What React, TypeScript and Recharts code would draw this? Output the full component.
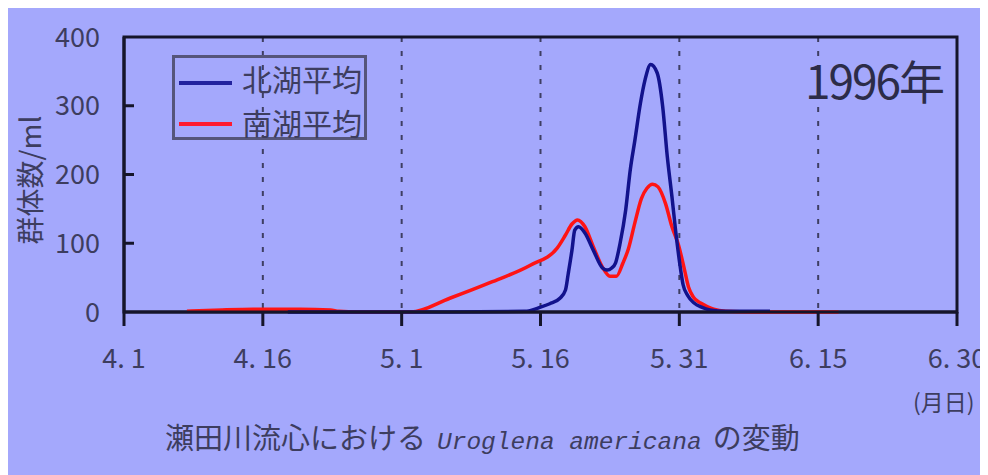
import { LineChart, Line, XAxis, YAxis, CartesianGrid, ReferenceArea } from 'recharts';

// days counted from 4.1 (day 0) to 6.30 (day 90)
const TICK_DAYS = [0, 15, 30, 45, 60, 75, 90];
const TICK_LABELS = ['4. 1', '4. 16', '5. 1', '5. 16', '5. 31', '6. 15', '6. 30'];
const Y_TICKS = [0, 100, 200, 300, 400];

// 北湖平均
const NORTH_DAYS = [17.7, 25, 35, 43.3, 45.0, 46.0, 47.1, 47.7, 48.0, 48.4, 48.7, 49.1, 49.8, 50.7, 51.7, 52.2, 52.7, 53.1, 53.6, 54.2, 54.7, 55.2, 55.8, 56.3, 56.9, 57.6, 58.2, 58.7, 59.2, 59.6, 60.0, 60.4, 60.9, 61.6, 62.4, 63.3, 65, 69.8];
const NORTH_VALUES = [0, 0, 0, 1, 7, 12, 20, 32, 56, 90, 119, 124, 115, 90, 64, 61, 64, 71, 100, 148, 207, 250, 304, 338, 360, 348, 299, 226, 168, 118, 75, 40, 24, 13, 7, 3, 1, 1];

// 南湖平均
const SOUTH_DAYS = [6.8, 10.6, 14, 19, 22.3, 23.2, 25.3, 31, 35.2, 39.6, 43.9, 46.8, 47.7, 48.4, 49.0, 49.8, 50.7, 51.7, 52.5, 53.2, 53.9, 54.5, 55.2, 55.9, 56.5, 57.1, 57.7, 58.5, 59.2, 59.9, 60.5, 61.0, 61.5, 62.3, 63.0, 63.7, 65, 68, 77.2];
const SOUTH_VALUES = [1, 3, 4, 4, 3, 1, 0, 0, 20, 43, 68, 93, 112, 128, 134, 124, 95, 65, 52, 52, 71, 92, 130, 165, 180, 186, 182, 158, 124, 98, 65, 36, 22, 13, 8, 4, 1, 0, 0];

const northData = NORTH_DAYS.map((day, i) => ({ day, v: NORTH_VALUES[i] }));
const southData = SOUTH_DAYS.map((day, i) => ({ day, v: SOUTH_VALUES[i] }));

const BG = '#a4a8fc';
const INK = '#3d3d5f';
const FRAME = '#15152a';
const CJK = '"Noto Sans CJK JP", "Noto Sans", sans-serif';

function YTick({ x, y, payload }: any) {
  const v = payload.value;
  return (
    <g>
      {v > 0 && v < 400 && <line x1={x} x2={x + 10} y1={y} y2={y} stroke={FRAME} strokeWidth={3} />}
      <text x={x - 24} y={y} dy="0.36em" textAnchor="end" fill={INK} fontSize={27} fontFamily={CJK}>
        {v}
      </text>
    </g>
  );
}

function XTick({ x, y, payload }: any) {
  const i = TICK_DAYS.indexOf(payload.value);
  return (
    <text x={x} y={y} dy={42} textAnchor="middle" fill={INK} fontSize={27} fontFamily={CJK}>
      {TICK_LABELS[i]}
    </text>
  );
}

export default function App() {
  return (
    <div style={{ position: 'relative', width: 980, height: 467, background: BG, fontFamily: CJK, color: INK }}>
      <LineChart width={980} height={467} data={southData} margin={{ top: 29, right: 31, bottom: 113, left: 56 }}>
        <CartesianGrid horizontal={false} stroke="#3e3e62" strokeWidth={2} strokeDasharray="5 9" />
        <XAxis
          dataKey="day"
          type="number"
          domain={[0, 90]}
          ticks={TICK_DAYS}
          height={50}
          tickSize={14}
          tickMargin={0}
          axisLine={{ stroke: FRAME, strokeWidth: 3 }}
          tickLine={{ stroke: FRAME, strokeWidth: 3 }}
          tick={<XTick />}
          allowDataOverflow
        />
        <YAxis
          type="number"
          domain={[0, 400]}
          ticks={Y_TICKS}
          width={60}
          tickSize={0}
          tickMargin={0}
          axisLine={{ stroke: FRAME, strokeWidth: 3 }}
          tickLine={false}
          tick={<YTick />}
        />
        <ReferenceArea x1={0} x2={90} y1={0} y2={400} fill="none" stroke={FRAME} strokeWidth={3} />
        <Line
          data={southData}
          dataKey="v"
          type="monotone"
          stroke="#ff1414"
          strokeWidth={3.5}
          dot={false}
          isAnimationActive={false}
        />
        <Line
          data={northData}
          dataKey="v"
          type="monotone"
          stroke="#12128c"
          strokeWidth={3.5}
          dot={false}
          isAnimationActive={false}
        />
      </LineChart>

      {/* legend box */}
      <div style={{ position: 'absolute', left: 164, top: 47, width: 195, height: 85, boxSizing: 'border-box', border: '3px solid #55557a' }}>
        <div style={{ position: 'absolute', left: 4, top: 23, width: 53, height: 4, background: '#22229e' }} />
        <div style={{ position: 'absolute', left: 67, top: 5, fontSize: 30, lineHeight: '30px', whiteSpace: 'nowrap' }}>北湖平均</div>
        <div style={{ position: 'absolute', left: 4, top: 64, width: 53, height: 4, background: '#ff1a30' }} />
        <div style={{ position: 'absolute', left: 67, top: 49, fontSize: 30, lineHeight: '30px', whiteSpace: 'nowrap' }}>南湖平均</div>
      </div>

      <div style={{ position: 'absolute', left: 797, top: 48, fontSize: 46, lineHeight: '46px', letterSpacing: -2, whiteSpace: 'nowrap', color: '#2c2c48' }}>
        1996年
      </div>

      <div
        style={{
          position: 'absolute',
          left: 21,
          top: 172,
          transform: 'translate(-50%, -50%) rotate(-90deg)',
          fontSize: 28,
          lineHeight: '28px',
          whiteSpace: 'nowrap',
        }}
      >
        群体数/ml
      </div>

      <div style={{ position: 'absolute', left: 905, top: 382, fontSize: 23, lineHeight: '23px', whiteSpace: 'nowrap' }}>
        (月日)
      </div>

      <div style={{ position: 'absolute', left: 157, top: 414, fontSize: 29, lineHeight: '29px', whiteSpace: 'nowrap' }}>
        瀬田川流心における
        <span style={{ fontFamily: '"Liberation Mono", monospace', fontStyle: 'italic', fontSize: 24.5, margin: '0 11px' }}>
          Uroglena americana
        </span>
        の変動
      </div>
    </div>
  );
}
